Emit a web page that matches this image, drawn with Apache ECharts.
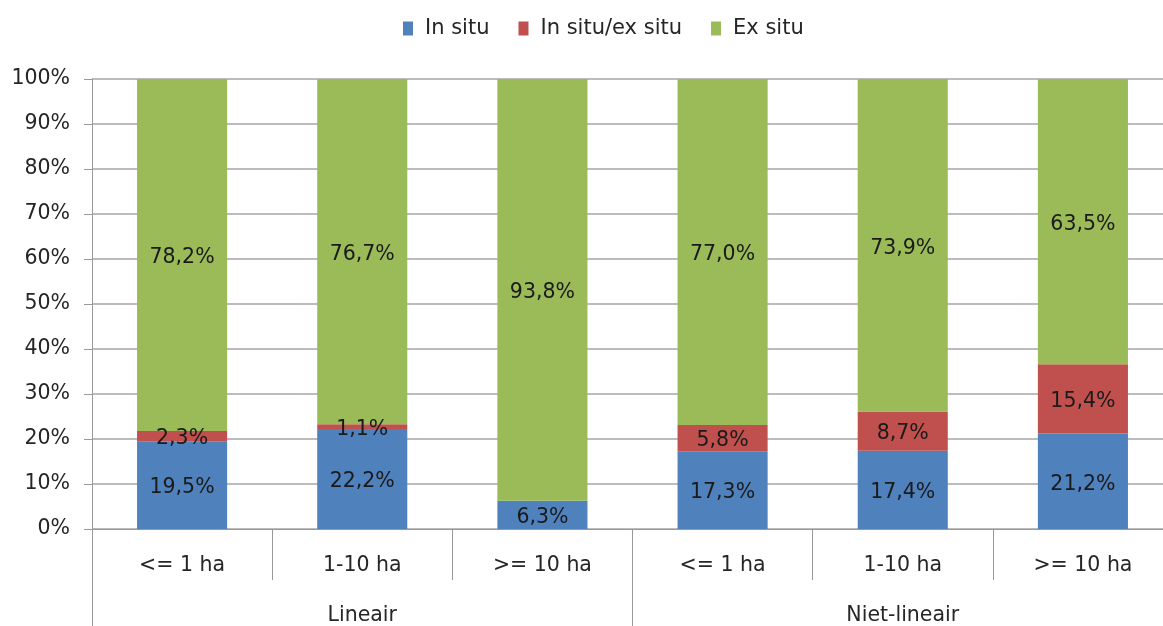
<!DOCTYPE html>
<html>
<head>
<meta charset="utf-8">
<script src="https://cdn.jsdelivr.net/npm/echarts@6/dist/echarts.min.js"></script>
<style>html,body{margin:0;padding:0;background:#fff}#c{width:1163px;height:626px}</style>
</head>
<body>
<div id="c"></div>
<script>
const categories = ['<= 1 ha', '1-10 ha', '>= 10 ha', '<= 1 ha', '1-10 ha', '>= 10 ha'];
const groups = ['Lineair', 'Niet-lineair'];
const seriesNames = ['In situ', 'In situ/ex situ', 'Ex situ'];
const inSitu = [19.5, 22.2, 6.3, 17.3, 17.4, 21.2];
const inSituExSitu = [2.3, 1.1, null, 5.8, 8.7, 15.4];
const exSitu = [78.2, 76.7, 93.8, 77.0, 73.9, 63.5];
const yTicks = [0, 10, 20, 30, 40, 50, 60, 70, 80, 90, 100];

const colors = ['#4F81BD', '#C0504D', '#9BBB59'];
const font = 'DejaVu Sans';
const fs = 20.5;
const fmt = p => p.value == null ? '' : p.value.toFixed(1).replace('.', ',') + '%';

const chart = echarts.init(document.getElementById('c'));
const mk = (name, data, color) => ({
  name, type: 'bar', stack: 'total', data, barWidth: '50%',
  itemStyle: { color },
  label: { show: true, position: 'inside', offset: [0, 3], formatter: fmt, color: '#1a1a1a', fontFamily: font, fontSize: fs },
  xAxisIndex: 0
});
chart.setOption({
  animation: false,
  legend: {
    top: 13, left: 398, itemWidth: 10, itemHeight: 14, itemGap: 29,
    icon: 'rect',
    textStyle: { fontFamily: font, fontSize: 21, color: '#262626', padding: [0, 0, 0, 7] },
    data: seriesNames
  },
  grid: { left: 92, width: 1081, top: 79, bottom: 97, containLabel: false, outerBoundsMode: 'none' },
  xAxis: [{
    type: 'category', data: categories, position: 'bottom',
    axisLine: { show: true, lineStyle: { color: '#999', width: 1 } },
    axisTick: { show: true, interval: 0, length: 51, lineStyle: { color: '#999' } },
    axisLabel: { interval: 0, margin: 26, fontFamily: font, fontSize: fs, color: '#262626' }
  }, {
    type: 'category', data: groups, position: 'bottom',
    axisLine: { show: false },
    axisTick: { show: true, interval: 0, length: 110, lineStyle: { color: '#999' } },
    axisLabel: { interval: 0, margin: 76, fontFamily: font, fontSize: fs, color: '#262626' }
  }],
  yAxis: {
    type: 'value', min: yTicks[0], max: yTicks[yTicks.length - 1], interval: 10,
    axisLine: { show: true, lineStyle: { color: '#999' } },
    axisTick: { show: true, length: 8, lineStyle: { color: '#999' } },
    axisLabel: { margin: 22, padding: [4, 0, 0, 0], formatter: '{value}%', fontFamily: font, fontSize: fs, color: '#262626' },
    splitLine: { show: true, lineStyle: { color: '#a6a6a6', width: 1.5 } }
  },
  series: [
    mk(seriesNames[0], inSitu, colors[0]),
    mk(seriesNames[1], inSituExSitu, colors[1]),
    mk(seriesNames[2], exSitu, colors[2])
  ]
});
</script>
</body>
</html>
